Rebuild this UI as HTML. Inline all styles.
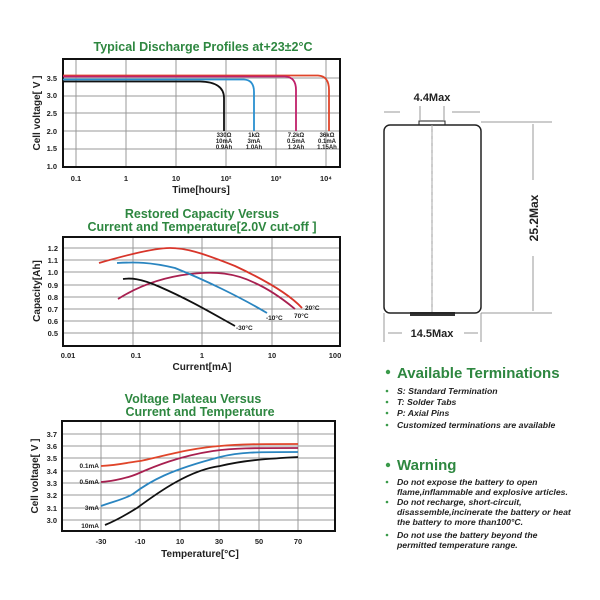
<!DOCTYPE html>
<html><head><meta charset="utf-8"><style>
body{margin:0;background:#fff;width:600px;height:600px;overflow:hidden}
svg{display:block;font-family:"Liberation Sans",Arial,sans-serif}
.t{fill:#2e8740;font-weight:bold;font-size:12.5px;text-anchor:middle}
.tk{font-size:7.5px;font-weight:bold;fill:#222}
.ax{font-size:10px;font-weight:bold;fill:#222}
.g{stroke:#999;stroke-width:1}
.box{fill:none;stroke:#111;stroke-width:2}
.it{font-size:8.7px;font-style:italic;font-weight:bold;fill:#222}
.h{font-size:15px;font-weight:bold;fill:#2e8740}
.bl{fill:#3a9a4a}
</style></head><body>
<svg width="600" height="600" viewBox="0 0 600 600">
<!-- Chart 1 -->
<text class="t" x="203" y="51">Typical Discharge Profiles at+23±2°C</text>
<g class="g">
<line x1="76" y1="59" x2="76" y2="167"/><line x1="126" y1="59" x2="126" y2="167"/><line x1="176" y1="59" x2="176" y2="167"/><line x1="226" y1="59" x2="226" y2="167"/><line x1="276" y1="59" x2="276" y2="167"/><line x1="326" y1="59" x2="326" y2="167"/>
<line x1="63" y1="78" x2="340" y2="78"/><line x1="63" y1="96" x2="340" y2="96"/><line x1="63" y1="113" x2="340" y2="113"/><line x1="63" y1="131" x2="340" y2="131"/><line x1="63" y1="149" x2="340" y2="149"/>
</g>
<rect class="box" x="63" y="59" width="277" height="108"/>
<g class="tk" text-anchor="end"><text x="57" y="81">3.5</text><text x="57" y="98">3.0</text><text x="57" y="116">2.5</text><text x="57" y="134">2.0</text><text x="57" y="151">1.5</text><text x="57" y="169">1.0</text></g>
<g class="tk" text-anchor="middle"><text x="76" y="181">0.1</text><text x="126" y="181">1</text><text x="176" y="181">10</text><text x="226" y="181">10²</text><text x="276" y="181">10³</text><text x="326" y="181">10⁴</text></g>
<text class="ax" x="201" y="193" text-anchor="middle">Time[hours]</text>
<text class="ax" transform="translate(40,113) rotate(-90)" text-anchor="middle">Cell voltage[ V ]</text>
<g fill="none" stroke-width="1.8">
<path d="M63 75.5 H318 Q329 76 329 90 V131" stroke="#e0452a"/>
<path d="M63 76.5 H285 Q296 77 296 90 V131" stroke="#c0206a"/>
<path d="M63 79.5 H244 Q254 80 254 92 V131" stroke="#2a90d0"/>
<path d="M63 81.5 H200 Q224 82 224 98 V131" stroke="#111"/>
</g>
<g font-size="6px" font-weight="bold" fill="#222" text-anchor="middle">
<text x="224" y="137">330Ω</text><text x="224" y="143">10mA</text><text x="224" y="149">0.9Ah</text>
<text x="254" y="137">1kΩ</text><text x="254" y="143">3mA</text><text x="254" y="149">1.0Ah</text>
<text x="296" y="137">7.2kΩ</text><text x="296" y="143">0.5mA</text><text x="296" y="149">1.2Ah</text>
<text x="327" y="137">36kΩ</text><text x="327" y="143">0.1mA</text><text x="327" y="149">1.15Ah</text>
</g>
<!-- Chart 2 -->
<text class="t" x="202" y="218">Restored Capacity Versus</text>
<text class="t" x="202" y="231">Current and Temperature[2.0V cut-off ]</text>
<g class="g">
<line x1="133" y1="237" x2="133" y2="346"/><line x1="202" y1="237" x2="202" y2="346"/><line x1="272" y1="237" x2="272" y2="346"/>
<line x1="63" y1="248" x2="340" y2="248"/><line x1="63" y1="260" x2="340" y2="260"/><line x1="63" y1="272" x2="340" y2="272"/><line x1="63" y1="285" x2="340" y2="285"/><line x1="63" y1="297" x2="340" y2="297"/><line x1="63" y1="309" x2="340" y2="309"/><line x1="63" y1="321" x2="340" y2="321"/><line x1="63" y1="333" x2="340" y2="333"/>
</g>
<rect class="box" x="63" y="237" width="277" height="109"/>
<g class="tk" text-anchor="end"><text x="58" y="251">1.2</text><text x="58" y="263">1.1</text><text x="58" y="275">1.0</text><text x="58" y="288">0.9</text><text x="58" y="300">0.8</text><text x="58" y="312">0.7</text><text x="58" y="324">0.6</text><text x="58" y="336">0.5</text></g>
<g class="tk" text-anchor="middle"><text x="68" y="358">0.01</text><text x="136" y="358">0.1</text><text x="202" y="358">1</text><text x="272" y="358">10</text><text x="335" y="358">100</text></g>
<text class="ax" x="202" y="370" text-anchor="middle">Current[mA]</text>
<text class="ax" transform="translate(40,291) rotate(-90)" text-anchor="middle">Capacity[Ah]</text>
<g fill="none" stroke-width="1.8">
<path d="M99 263 C130 254 155 248 170 248 C185 248 200 252 235 266 C265 280 290 295 302 308" stroke="#d8352a"/>
<path d="M118 299 C140 285 165 277 190 274 C215 271 235 273 255 283 C275 292 290 305 295 309" stroke="#a82050"/>
<path d="M117 263 C135 262 150 262 175 268 C205 280 240 297 267 313" stroke="#2a85c0"/>
<path d="M123 279 C130 278 140 278 160 287 C190 300 215 315 235 326" stroke="#111"/>
</g>
<g font-size="6.5px" font-weight="bold" fill="#222">
<text x="305" y="310">20°C</text><text x="294" y="318">70°C</text><text x="266" y="320">-10°C</text><text x="236" y="330">-30°C</text>
</g>
<!-- Chart 3 -->
<text class="t" x="193" y="403">Voltage Plateau Versus</text>
<text class="t" x="200" y="416">Current and Temperature</text>
<g class="g">
<line x1="101" y1="421" x2="101" y2="531"/><line x1="140" y1="421" x2="140" y2="531"/><line x1="180" y1="421" x2="180" y2="531"/><line x1="219" y1="421" x2="219" y2="531"/><line x1="259" y1="421" x2="259" y2="531"/><line x1="298" y1="421" x2="298" y2="531"/>
<line x1="62" y1="434" x2="335" y2="434"/><line x1="62" y1="446" x2="335" y2="446"/><line x1="62" y1="458" x2="335" y2="458"/><line x1="62" y1="471" x2="335" y2="471"/><line x1="62" y1="483" x2="335" y2="483"/><line x1="62" y1="495" x2="335" y2="495"/><line x1="62" y1="508" x2="335" y2="508"/><line x1="62" y1="520" x2="335" y2="520"/>
</g>
<rect class="box" x="62" y="421" width="273" height="110"/>
<g class="tk" text-anchor="end"><text x="57" y="437">3.7</text><text x="57" y="449">3.6</text><text x="57" y="461">3.5</text><text x="57" y="474">3.4</text><text x="57" y="486">3.3</text><text x="57" y="498">3.2</text><text x="57" y="511">3.1</text><text x="57" y="523">3.0</text></g>
<g class="tk" text-anchor="middle"><text x="101" y="544">-30</text><text x="140" y="544">-10</text><text x="180" y="544">10</text><text x="219" y="544">30</text><text x="259" y="544">50</text><text x="298" y="544">70</text></g>
<text class="ax" x="200" y="557" text-anchor="middle">Temperature[°C]</text>
<text class="ax" transform="translate(38,476) rotate(-90)" text-anchor="middle">Cell voltage[ V ]</text>
<g fill="none" stroke-width="1.8">
<path d="M101 466 C120 465 130 462 140 461 C160 457 190 448 220 446 C240 444 260 444 298 444" stroke="#e0452a"/>
<path d="M101 482 C115 481 130 477 137 474 C155 466 180 456 213 451 C235 448 250 448 298 448" stroke="#a82050"/>
<path d="M101 506 C115 501 125 499 133 494 C150 481 170 470 220 457 C240 452 255 452 298 452" stroke="#2a85c0"/>
<path d="M105 525 C120 519 130 512 137 508 C160 491 190 470 220 466 C245 460 265 459 298 457" stroke="#111"/>
</g>
<g font-size="6.5px" font-weight="bold" fill="#222" text-anchor="end">
<text x="99" y="468">0.1mA</text><text x="99" y="484">0.5mA</text><text x="99" y="510">3mA</text><text x="99" y="528">10mA</text>
</g>
<!-- Battery -->
<text x="432" y="101" text-anchor="middle" font-size="11px" font-weight="bold" fill="#222">4.4Max</text>
<g stroke="#999" stroke-width="1" fill="none">
<line x1="384" y1="112" x2="400" y2="112"/><line x1="452" y1="112" x2="480" y2="112"/>
<line x1="420" y1="106" x2="420" y2="120"/><line x1="444" y1="106" x2="444" y2="120"/>
<line x1="481" y1="122" x2="552" y2="122"/><line x1="481" y1="313" x2="552" y2="313"/>
<line x1="533" y1="124" x2="533" y2="180"/><line x1="533" y1="256" x2="533" y2="311"/>
<line x1="384" y1="313" x2="384" y2="342"/><line x1="481" y1="313" x2="481" y2="342"/>
<line x1="388" y1="333" x2="402" y2="333"/><line x1="464" y1="333" x2="478" y2="333"/>
<line x1="432" y1="122" x2="432" y2="316" stroke-dasharray="4,3"/>
</g>
<rect x="419" y="121" width="26" height="4" fill="#fff" stroke="#222" stroke-width="1"/>
<rect x="410" y="312" width="45" height="4" fill="#333"/>
<rect x="384" y="125" width="97" height="188" rx="6" fill="none" stroke="#222" stroke-width="1.5"/>
<line x1="432" y1="125" x2="432" y2="313" stroke="#aaa" stroke-dasharray="4,3"/>
<text transform="translate(538,218) rotate(-90)" text-anchor="middle" font-size="12px" font-weight="bold" fill="#222">25.2Max</text>
<text x="432" y="337" text-anchor="middle" font-size="11px" font-weight="bold" fill="#222">14.5Max</text>
<!-- Text -->
<circle class="bl" cx="388" cy="372" r="2.2"/>
<text class="h" x="397" y="378">Available Terminations</text>
<g class="bl"><circle cx="387" cy="391" r="1.3"/><circle cx="387" cy="402" r="1.3"/><circle cx="387" cy="413" r="1.3"/><circle cx="387" cy="425" r="1.3"/>
<circle cx="388" cy="465" r="2.2"/><circle cx="387" cy="482" r="1.3"/><circle cx="387" cy="502" r="1.3"/><circle cx="387" cy="535" r="1.3"/></g>
<text class="it" x="397" y="394">S: Standard Termination</text>
<text class="it" x="397" y="405">T: Solder Tabs</text>
<text class="it" x="397" y="416">P: Axial Pins</text>
<text class="it" x="397" y="428">Customized terminations are available</text>
<text class="h" x="397" y="470">Warning</text>
<text class="it" x="397" y="485">Do not expose the battery to open</text>
<text class="it" x="397" y="495">flame,inflammable and explosive articles.</text>
<text class="it" x="397" y="505">Do not recharge, short-circuit,</text>
<text class="it" x="397" y="515">disassemble,incinerate the battery or heat</text>
<text class="it" x="397" y="525">the battery to more than100°C.</text>
<text class="it" x="397" y="538">Do not use the battery beyond the</text>
<text class="it" x="397" y="548">permitted temperature range.</text>
</svg>
</body></html>
